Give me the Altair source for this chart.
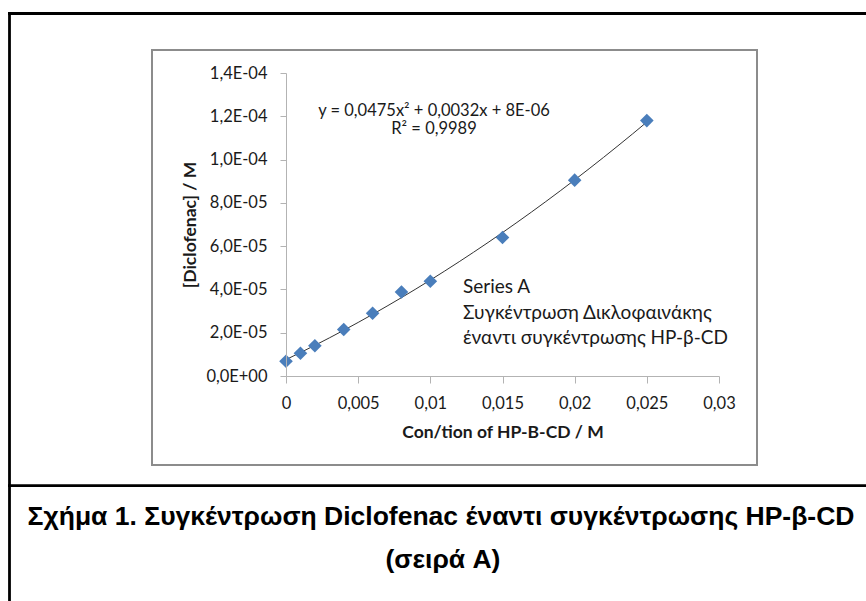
import json
import altair as alt
import pandas as pd

# ---------------- data ----------------
conc_hpbcd = [0.0, 0.001, 0.002, 0.004, 0.006, 0.008, 0.010, 0.015, 0.020, 0.025]
conc_diclofenac = [6.8e-06, 1.05e-05, 1.40e-05, 2.15e-05, 2.90e-05, 3.88e-05,
                   4.38e-05, 6.40e-05, 9.05e-05, 1.18e-04]

x_ticks = [0, 0.005, 0.01, 0.015, 0.02, 0.025, 0.03]
x_tick_labels = ["0", "0,005", "0,01", "0,015", "0,02", "0,025", "0,03"]
y_ticks = [0, 2e-05, 4e-05, 6e-05, 8e-05, 1e-04, 1.2e-04, 1.4e-04]
y_tick_labels = ["0,0E+00", "2,0E-05", "4,0E-05", "6,0E-05",
                 "8,0E-05", "1,0E-04", "1,2E-04", "1,4E-04"]

x_title = "Con/tion of HP-B-CD / M"
y_title = "[Diclofenac] / M"
equation_lines = ["y = 0,0475x² + 0,0032x + 8E-06", "R² = 0,9989"]
series_note = ["Series A", "Συγκέντρωση Δικλοφαινάκης", "έναντι συγκέντρωσης HP-β-CD"]
caption_lines = ["Σχήμα 1. Συγκέντρωση Diclofenac έναντι συγκέντρωσης HP-β-CD",
                 "(σειρά A)"]

df = pd.DataFrame({"x": conc_hpbcd, "y": conc_diclofenac})
one = alt.Data(values=[{"k": 1}])

FONT = "Lato, Open Sans, sans-serif"
CAP_FONT = "Liberation Sans, Arial, sans-serif"
W, H = 433, 303

x_label_expr = json.dumps(x_tick_labels) + "[round(datum.value / 0.005)]"
y_label_expr = json.dumps(y_tick_labels) + "[round(datum.value / 2e-05)]"

x_scale = alt.Scale(domain=[0, 0.03], nice=False, zero=False)
y_scale = alt.Scale(domain=[0, 1.4e-04], nice=False, zero=False)

x_axis = alt.Axis(values=x_ticks, labelExpr=x_label_expr, grid=False,
                  domainColor="#b3b3b3", tickColor="#b3b3b3", tickSize=7,
                  labelFont=FONT, labelFontSize=16.5, labelColor="#1a1a1a",
                  labelBaseline="middle", labelPadding=20, labelFlush=False,
                  title=x_title, titleFont=FONT, titleFontSize=17.5,
                  titleFontWeight="bold", titleColor="#1a1a1a",
                  titleX=W / 2, titleY=56, titleAlign="center",
                  titleBaseline="middle", titleAnchor="middle", zindex=1)
y_axis = alt.Axis(values=y_ticks, labelExpr=y_label_expr, grid=False,
                  domainColor="#b3b3b3", tickColor="#b3b3b3", tickSize=6,
                  labelFont=FONT, labelFontSize=16.5, labelColor="#1a1a1a",
                  labelPadding=13, labelFlush=False,
                  title=y_title, titleFont=FONT, titleFontSize=17.5,
                  titleFontWeight="bold", titleColor="#1a1a1a",
                  titleX=-96, titleY=H / 2, titleAngle=270, titleAlign="center",
                  titleBaseline="middle", titleAnchor="middle", zindex=1)

# ---------------- decorations ----------------
inner_box = alt.Chart(one).mark_rect(fillOpacity=0, stroke="#8c8c8c",
                                     strokeWidth=2).encode(
    x=alt.value(-134), x2=alt.value(471), y=alt.value(-23), y2=alt.value(392))

outer_left = alt.Chart(one).mark_rule(color="black", strokeWidth=2.8).encode(
    x=alt.value(-276.5), y=alt.value(-61), y2=alt.value(530))
outer_top = alt.Chart(one).mark_rule(color="black", strokeWidth=2.8).encode(
    x=alt.value(-278), x2=alt.value(582), y=alt.value(-59.5))
separator = alt.Chart(one).mark_rule(color="black", strokeWidth=2.8).encode(
    x=alt.value(-278), x2=alt.value(582), y=alt.value(412.7))

# ---------------- data marks ----------------
base = alt.Chart(df)
points = base.mark_point(shape="diamond", filled=True, size=185,
                         color="#4a7ebb", opacity=1).encode(
    x=alt.X("x:Q", scale=x_scale, axis=x_axis),
    y=alt.Y("y:Q", scale=y_scale, axis=y_axis))

trend = base.transform_regression(
    "x", "y", method="poly", order=2, extent=[0, 0.025]
).mark_line(color="#333333", strokeWidth=1).encode(
    x=alt.X("x:Q", scale=x_scale), y=alt.Y("y:Q", scale=y_scale))

# ---------------- annotations ----------------
eq1 = alt.Chart(one).mark_text(font=FONT, fontSize=16.5, color="#1a1a1a",
                               align="center", baseline="middle").encode(
    x=alt.value(148), y=alt.value(37.5), text=alt.value(equation_lines[0]))
eq2 = alt.Chart(one).mark_text(font=FONT, fontSize=16.5, color="#1a1a1a",
                               align="center", baseline="middle").encode(
    x=alt.value(148), y=alt.value(56), text=alt.value(equation_lines[1]))

note = alt.Chart(one).mark_text(font=FONT, fontSize=19, color="#1a1a1a",
                                align="left", baseline="middle",
                                lineHeight=25.5).encode(
    x=alt.value(177), y=alt.value(214), text=alt.value(series_note))

cap1 = alt.Chart(one).mark_text(font=CAP_FONT, fontSize=26.5, fontWeight="bold",
                                color="black", align="center",
                                baseline="alphabetic").encode(
    x=alt.value(155), y=alt.value(452), text=alt.value(caption_lines[0]))
cap2 = alt.Chart(one).mark_text(font=CAP_FONT, fontSize=26.5, fontWeight="bold",
                                color="black", align="center",
                                baseline="alphabetic").encode(
    x=alt.value(157), y=alt.value(495), text=alt.value(caption_lines[1]))

chart = alt.layer(
    inner_box, outer_left, outer_top, separator,
    trend, points, eq1, eq2, note, cap1, cap2
).properties(
    width=W, height=H,
    autosize=alt.AutoSizeParams(type="none"),
    padding={"left": 286, "top": 73, "right": 866 - 286 - W, "bottom": 601 - 73 - H},
    background="white",
).configure_view(strokeWidth=0)

chart.save("out.html", embed_options={"renderer": "svg", "actions": False})
